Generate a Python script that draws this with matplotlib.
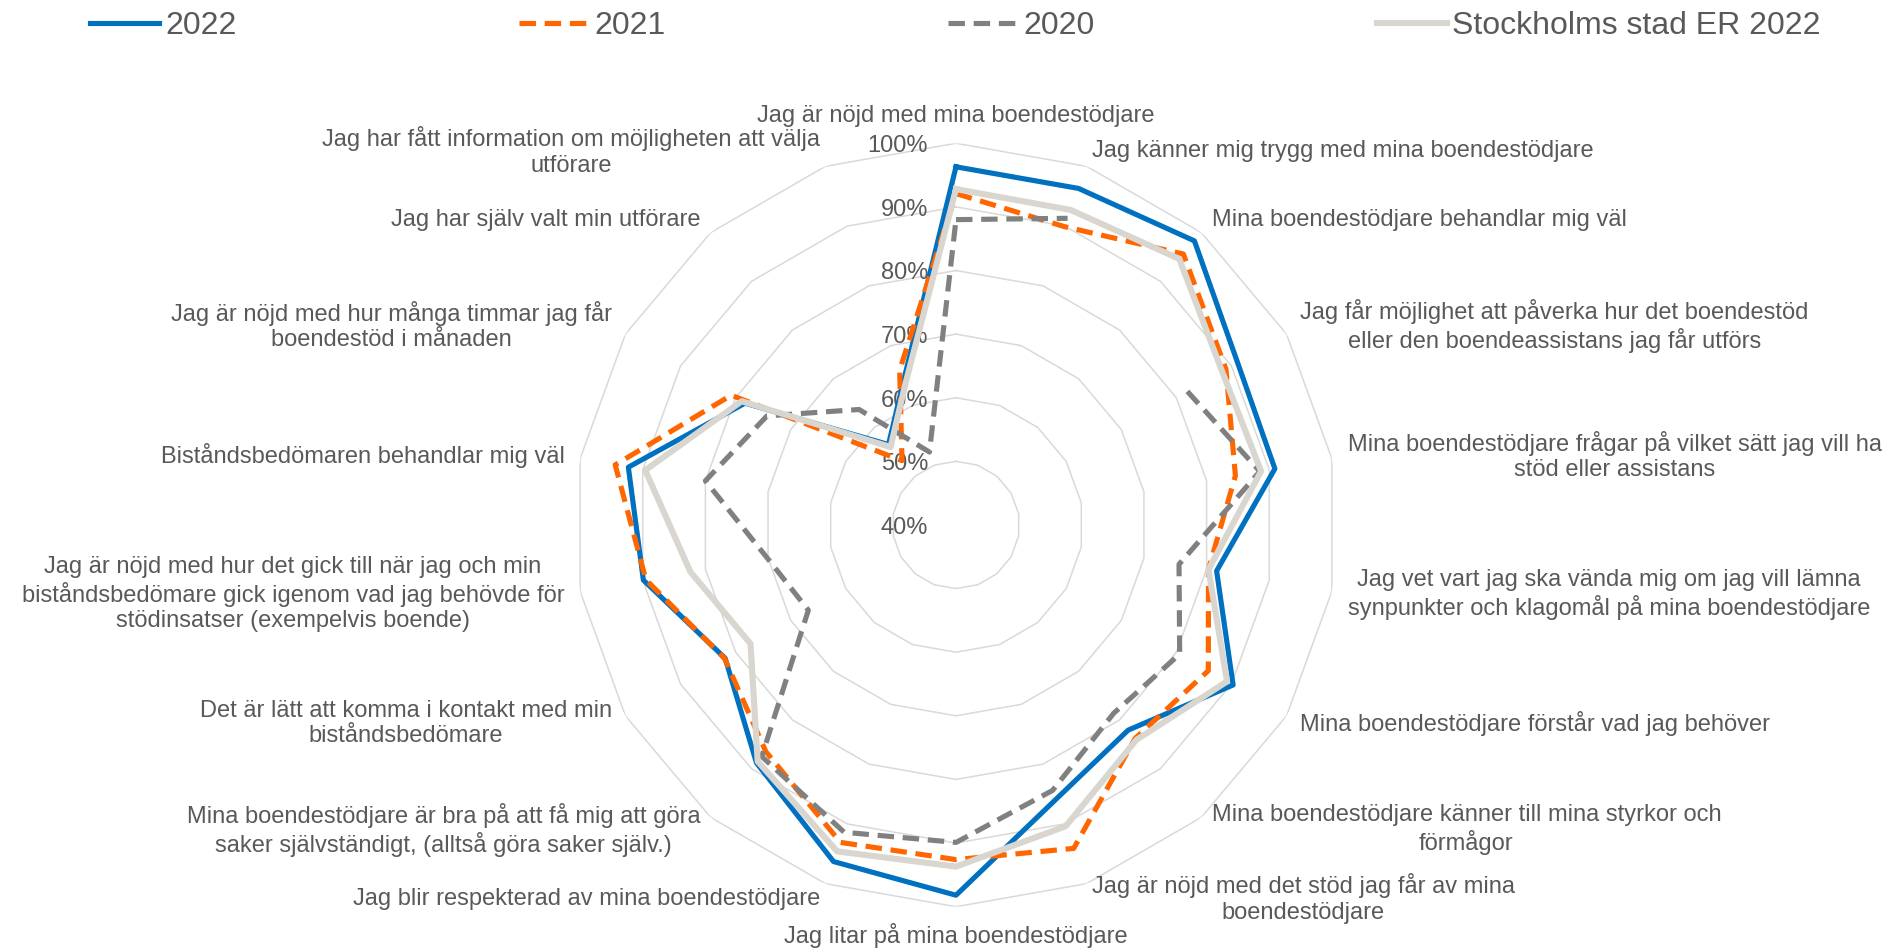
import numpy as np
import matplotlib.pyplot as plt

plt.rcParams['font.family'] = ['Liberation Sans', 'DejaVu Sans']

categories = [
    "Jag är nöjd med mina boendestödjare",
    "Jag känner mig trygg med mina boendestödjare",
    "Mina boendestödjare behandlar mig väl",
    "Jag får möjlighet att påverka hur det boendestöd\neller den boendeassistans jag får utförs",
    "Mina boendestödjare frågar på vilket sätt jag vill ha\nstöd eller assistans",
    "Jag vet vart jag ska vända mig om jag vill lämna\nsynpunkter och klagomål på mina boendestödjare",
    "Mina boendestödjare förstår vad jag behöver",
    "Mina boendestödjare känner till mina styrkor och\nförmågor",
    "Jag är nöjd med det stöd jag får av mina\nboendestödjare",
    "Jag litar på mina boendestödjare",
    "Jag blir respekterad av mina boendestödjare",
    "Mina boendestödjare är bra på att få mig att göra\nsaker självständigt, (alltså göra saker själv.)",
    "Det är lätt att komma i kontakt med min\nbiståndsbedömare",
    "Jag är nöjd med hur det gick till när jag och min\nbiståndsbedömare gick igenom vad jag behövde för\nstödinsatser (exempelvis boende)",
    "Biståndsbedömaren behandlar mig väl",
    "Jag är nöjd med hur många timmar jag får\nboendestöd i månaden",
    "Jag har själv valt min utförare",
    "Jag har fått information om möjligheten att välja\nutförare",
]

v2022 = [0.963, 0.963, 0.983, 0.911, 0.909, 0.816, 0.903, 0.821, 0.859,
         0.982, 0.963, 0.888, 0.819, 0.899, 0.923, 0.783, 0.565, 0.641]
v2021 = [0.921, 0.899, 0.956, 0.890, 0.846, 0.803, 0.858, 0.838, 0.941,
         0.926, 0.931, 0.865, 0.820, 0.895, 0.944, 0.808, 0.532, 0.659]
v2020 = [0.880, 0.913, np.nan, 0.820, 0.885, 0.756, 0.806, 0.786, 0.844,
         0.899, 0.914, 0.875, 0.668, 0.701, 0.800, 0.743, 0.637, 0.522]
v_sthlm = [0.928, 0.927, 0.946, 0.883, 0.887, 0.803, 0.892, 0.841, 0.904,
           0.937, 0.946, 0.885, 0.773, 0.824, 0.896, 0.789, 0.560, 0.634]

r_ticks = [0.4, 0.5, 0.6, 0.7, 0.8, 0.9, 1.0]
txt = '#595959'

n = len(categories)
angles = np.arange(n) * 2 * np.pi / n
ring = np.append(angles, angles[0])


def closed(v):
    return np.append(v, v[0])


fig = plt.figure(figsize=(18.91, 9.52), dpi=100)
ax = fig.add_axes([0.3037, 0.0476, 0.4037, 0.8019], polar=True)
ax.set_theta_zero_location('N')
ax.set_theta_direction(-1)
ax.set_ylim(r_ticks[0], r_ticks[-1])
ax.grid(False)
ax.spines['polar'].set_visible(False)
ax.set_xticks([])
ax.set_yticks([])
ax.patch.set_alpha(0)

# polygon grid
for lv in r_ticks[1:]:
    ax.plot(ring, [lv] * (n + 1), color='#D9D9D9', lw=1.1, zorder=1)

for lv in r_ticks:
    ax.annotate(f"{int(round(lv * 100))}%", xy=(0, lv), xytext=(-20, -2),
                textcoords='offset points', ha='right', va='center',
                fontsize=17, color=txt, zorder=2)

ax.plot(ring, closed(v2022), color='#0070C0', lw=3.7, label='2022',
        solid_joinstyle='round', zorder=3)
ax.plot(ring, closed(v2021), color='#FF6600', lw=3.7, ls=(0, (3.2, 1.7)),
        label='2021', dash_joinstyle='round', zorder=4)
ax.plot(ring, closed(v2020), color='#808080', lw=3.7, ls=(0, (3.2, 1.7)),
        label='2020', dash_joinstyle='round', zorder=5)
ax.plot(ring, closed(v_sthlm), color='#D9D5CF', lw=4.4,
        label='Stockholms stad ER 2022', solid_joinstyle='round', zorder=6)

for ang, lab in zip(angles, categories):
    s, c = np.sin(ang), np.cos(ang)
    if abs(s) < 1e-6:
        ha = 'center'
        va = 'bottom' if c > 0 else 'top'
    else:
        ha = 'left' if s > 0 else 'right'
        va = 'center'
    ax.text(ang, 1.025, lab, ha=ha, va=va, multialignment='center',
            fontsize=17, color=txt, linespacing=1.2)

fig.legend(loc='center left', bbox_to_anchor=(90 / 1891, 1 - 26 / 952),
           ncol=4, frameon=False, fontsize=23.0, handlelength=2.17,
           handletextpad=0.18, columnspacing=8.85, borderpad=0,
           borderaxespad=0, labelcolor=txt)

fig.savefig('out.png', dpi=100)
